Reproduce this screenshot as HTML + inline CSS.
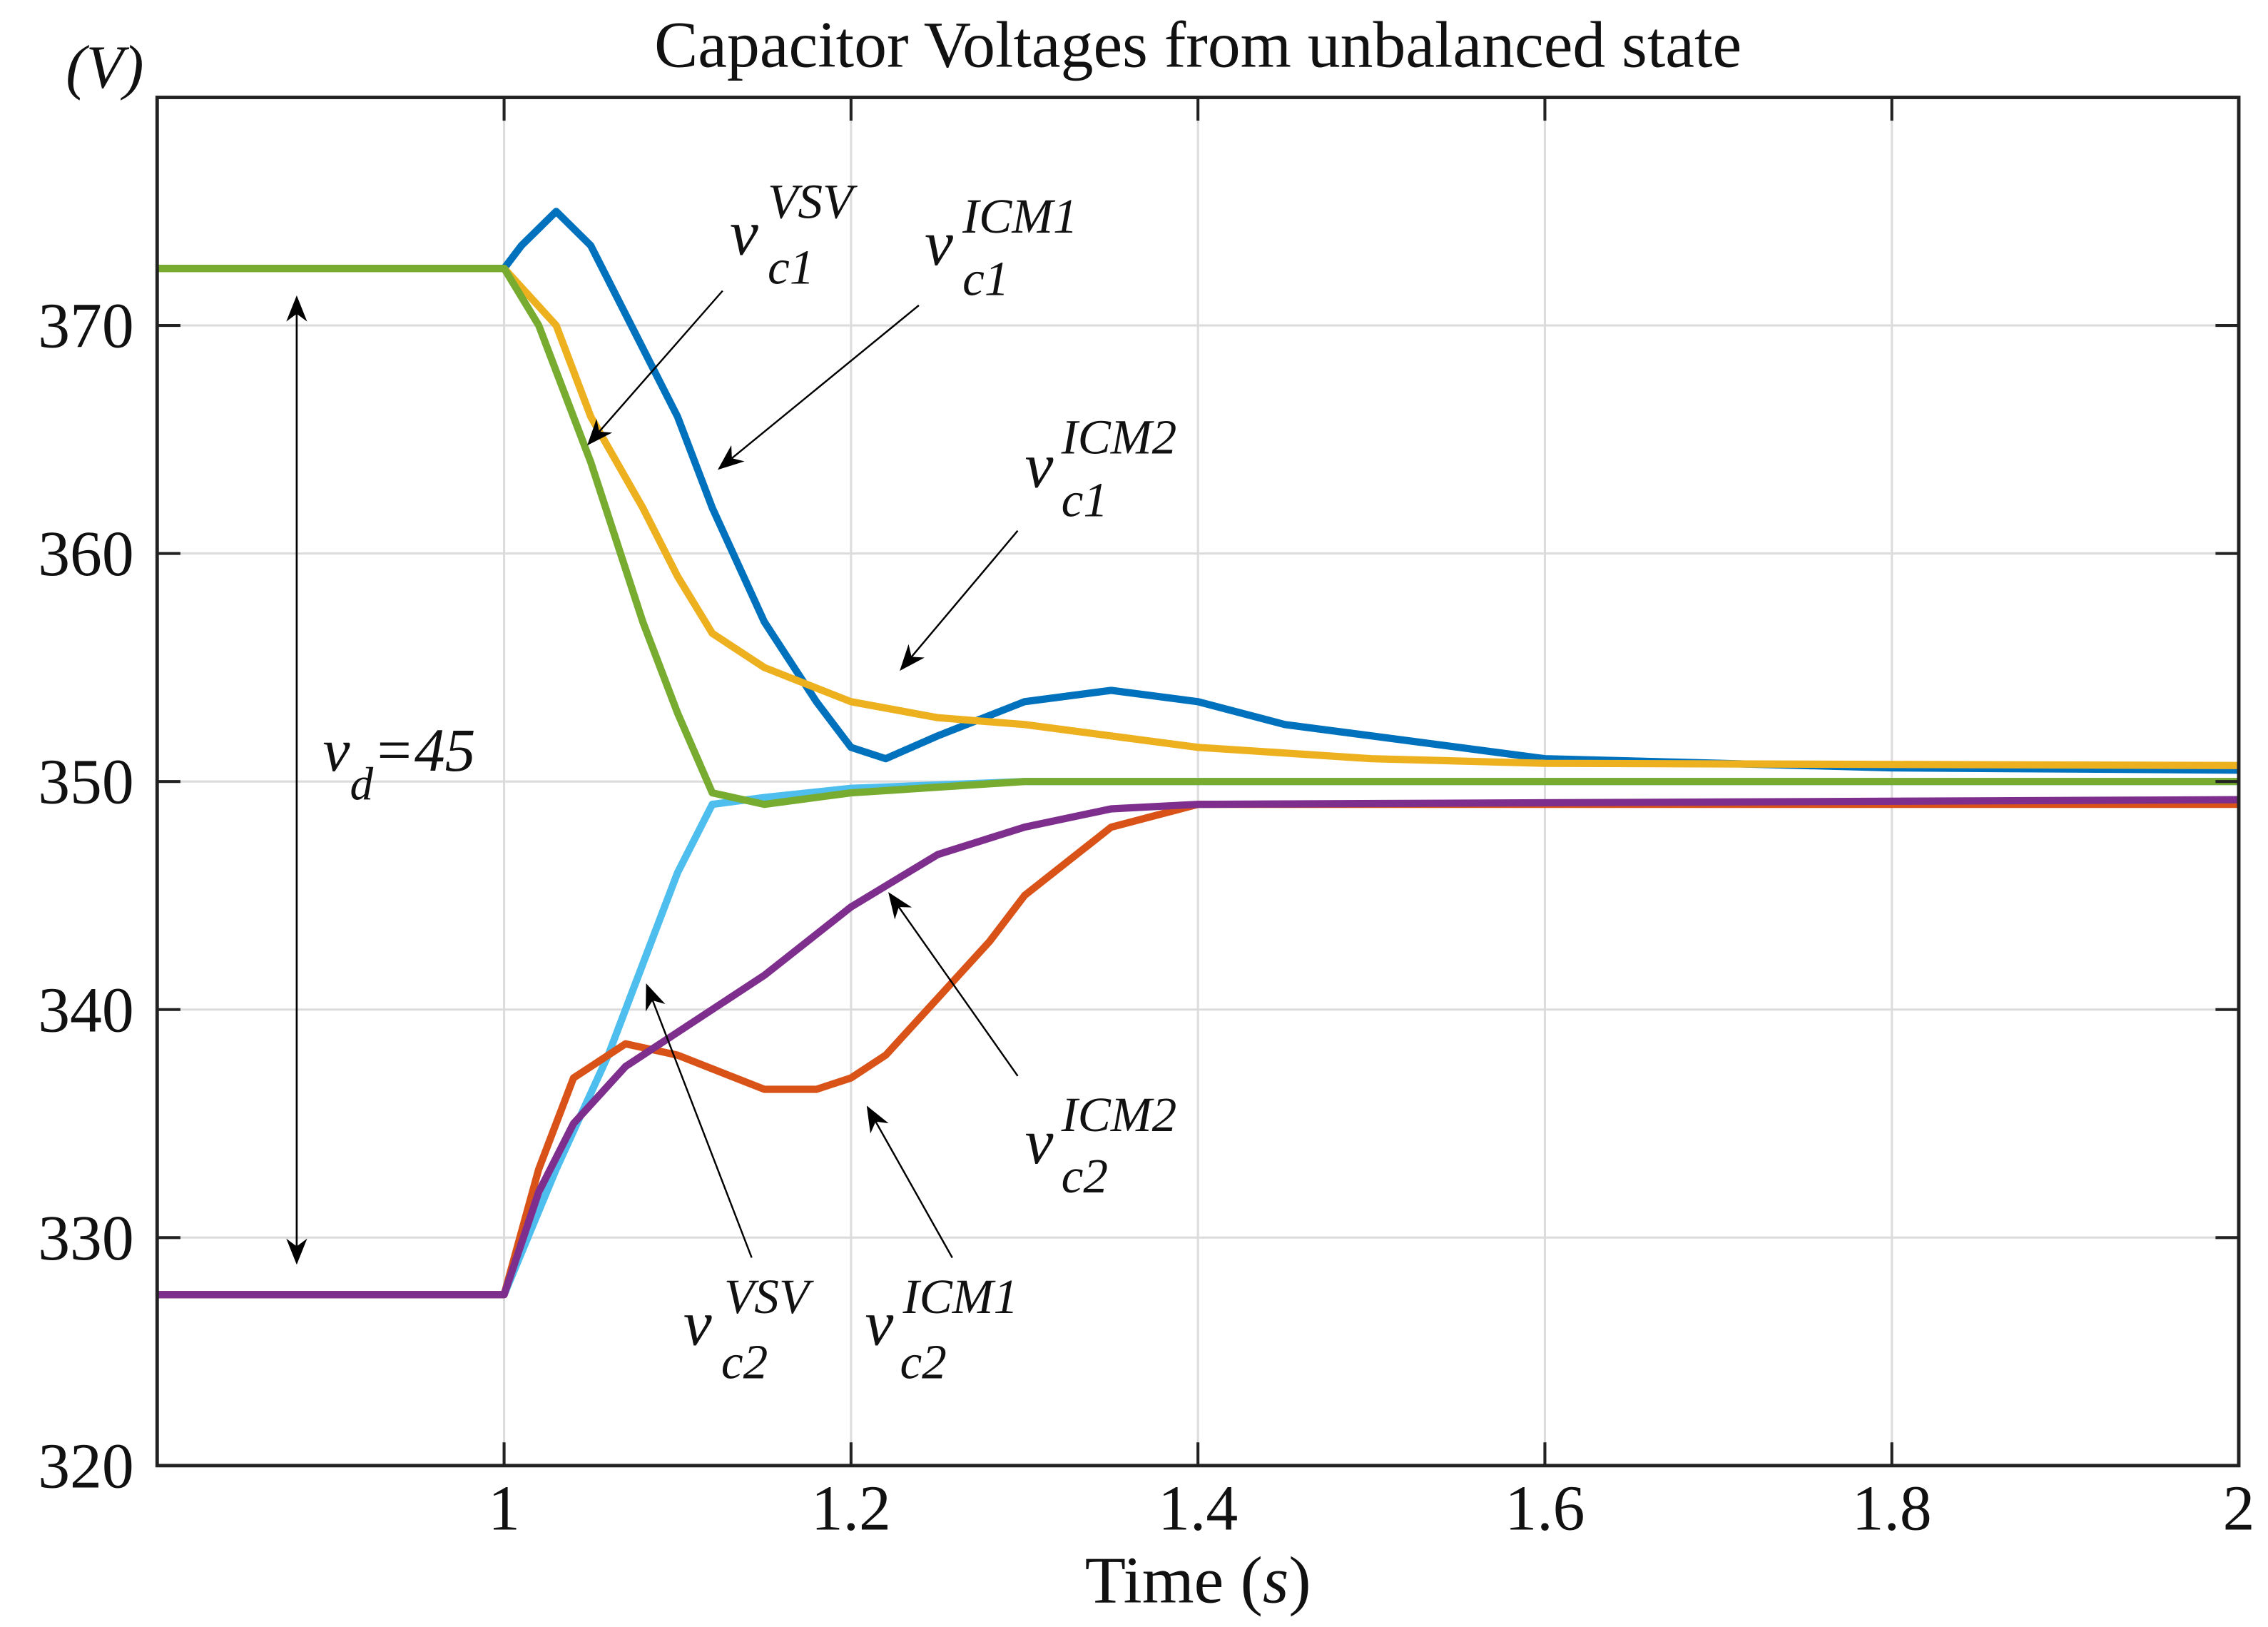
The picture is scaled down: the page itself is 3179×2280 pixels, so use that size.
<!DOCTYPE html>
<html><head><meta charset="utf-8"><style>
html,body{margin:0;padding:0;background:#fff;}
svg{display:block;}
text{font-family:"Liberation Serif",serif;fill:#111;}
</style></head><body>
<svg id="chart" width="3179" height="2280" viewBox="0 0 1560 1119" xmlns="http://www.w3.org/2000/svg">
<defs>
<marker id="ahb" viewBox="0 0 10 10" refX="9" refY="5" markerWidth="18" markerHeight="18" orient="auto-start-reverse" markerUnits="userSpaceOnUse"><path d="M0,1 L10,5 L0,9 L3,5 Z" fill="#000"/></marker>
</defs>
<g id="grid"></g>
<g id="series"></g>
<g id="axes"></g>
<text x="824" y="46" font-size="45" text-anchor="middle">Capacitor Voltages from unbalanced state</text>
<text x="72" y="60" font-size="42" font-style="italic" text-anchor="middle">(V)</text>
<text x="824" y="1102" font-size="46" text-anchor="middle">Time (<tspan font-style="italic">s</tspan>)</text>
<g font-style="italic">
  <line x1="204" y1="868" x2="204" y2="205" stroke="#000" stroke-width="1.3" marker-start="url(#ahb)" marker-end="url(#ahb)"/>
  <text x="222" y="530" font-size="42">v<tspan dy="20" font-size="32">d</tspan><tspan dy="-20">=45</tspan></text>

  <line x1="497" y1="200" x2="405" y2="305" stroke="#000" stroke-width="1.2" marker-end="url(#ahb)"/>
  <text x="502" y="175" font-size="44">v</text>
  <text x="528" y="150" font-size="34">VSV</text>
  <text x="528" y="195" font-size="34">c1</text>

  <line x1="632" y1="210" x2="495" y2="322" stroke="#000" stroke-width="1.2" marker-end="url(#ahb)"/>
  <text x="636" y="182" font-size="44">v</text>
  <text x="662" y="160" font-size="34">ICM1</text>
  <text x="662" y="203" font-size="34">c1</text>

  <line x1="700" y1="365" x2="620" y2="460" stroke="#000" stroke-width="1.2" marker-end="url(#ahb)"/>
  <text x="705" y="335" font-size="44">v</text>
  <text x="730" y="312" font-size="34">ICM2</text>
  <text x="730" y="355" font-size="34">c1</text>

  <line x1="517" y1="865" x2="445" y2="678" stroke="#000" stroke-width="1.2" marker-end="url(#ahb)"/>
  <text x="470" y="925" font-size="44">v</text>
  <text x="498" y="903" font-size="34">VSV</text>
  <text x="496" y="948" font-size="34">c2</text>

  <line x1="655" y1="865" x2="597" y2="762" stroke="#000" stroke-width="1.2" marker-end="url(#ahb)"/>
  <text x="595" y="925" font-size="44">v</text>
  <text x="621" y="903" font-size="34">ICM1</text>
  <text x="619" y="948" font-size="34">c2</text>

  <line x1="700" y1="740" x2="612" y2="615" stroke="#000" stroke-width="1.2" marker-end="url(#ahb)"/>
  <text x="705" y="800" font-size="44">v</text>
  <text x="730" y="778" font-size="34">ICM2</text>
  <text x="730" y="820" font-size="34">c2</text>
</g>
</svg>
<script>
const xTicks = [1, 1.2, 1.4, 1.6, 1.8, 2];
const xTickLabels = ["1", "1.2", "1.4", "1.6", "1.8", "2"];
const yTicks = [320, 330, 340, 350, 360, 370];
const yTickLabels = ["320", "330", "340", "350", "360", "370"];

const tBlue = [0.8, 1.0, 1.01, 1.03, 1.05, 1.08, 1.1, 1.12, 1.15, 1.18, 1.2, 1.22, 1.25, 1.3, 1.35, 1.4, 1.45, 1.5, 1.6, 1.8, 2.0];
const vBlue = [372.5, 372.5, 373.5, 375, 373.5, 369, 366, 362, 357, 353.5, 351.5, 351, 352, 353.5, 354, 353.5, 352.5, 352, 351, 350.6, 350.5];
const tYellow = [0.8, 1.0, 1.03, 1.05, 1.08, 1.1, 1.12, 1.15, 1.2, 1.25, 1.3, 1.4, 1.5, 1.6, 2.0];
const vYellow = [372.5, 372.5, 370, 366, 362, 359, 356.5, 355, 353.5, 352.8, 352.5, 351.5, 351, 350.8, 350.7];
const tGreen = [0.8, 1.0, 1.02, 1.05, 1.08, 1.1, 1.12, 1.15, 1.2, 1.3, 2.0];
const vGreen = [372.5, 372.5, 370, 364, 357, 353, 349.5, 349, 349.5, 350, 350];
const tCyan = [0.8, 1.0, 1.03, 1.06, 1.08, 1.1, 1.12, 1.15, 1.2, 1.3, 2.0];
const vCyan = [327.5, 327.5, 333, 338, 342, 346, 349, 349.3, 349.7, 350, 350];
const tOrange = [0.8, 1.0, 1.02, 1.04, 1.07, 1.1, 1.15, 1.18, 1.2, 1.22, 1.25, 1.28, 1.3, 1.35, 1.4, 1.5, 2.0];
const vOrange = [327.5, 327.5, 333, 337, 338.5, 338, 336.5, 336.5, 337, 338, 340.5, 343, 345, 348, 349, 349, 349];
const tPurple = [0.8, 1.0, 1.02, 1.04, 1.07, 1.1, 1.15, 1.2, 1.25, 1.3, 1.35, 1.4, 2.0];
const vPurple = [327.5, 327.5, 332, 335, 337.5, 339, 341.5, 344.5, 346.8, 348, 348.8, 349, 349.2];

const X0 = 108, X1 = 1540, Y0 = 1008, Y1 = 67;
const xMin = 0.8, xMax = 2, yMin = 320, yMax = 380;
function xs(t){ return X0 + (t - xMin) / (xMax - xMin) * (X1 - X0); }
function ys(v){ return Y0 - (v - yMin) / (yMax - yMin) * (Y0 - Y1); }
const NS = "http://www.w3.org/2000/svg";
function mk(tag, attrs, parent){
  const e = document.createElementNS(NS, tag);
  for (const k in attrs) e.setAttribute(k, attrs[k]);
  parent.appendChild(e); return e;
}
const grid = document.getElementById('grid');
const axes = document.getElementById('axes');
const series = document.getElementById('series');

xTicks.forEach((t, i) => {
  const g = mk('line', {x1: xs(t), x2: xs(t), y1: Y1, y2: Y0, stroke: '#dcdcdc', 'stroke-width': 1.5}, grid);
  
  
  const tb = mk('line', {x1: xs(t), x2: xs(t), y1: Y0, y2: Y0 - 16, stroke: '#222', 'stroke-width': 2}, axes);
  
  
  const tt = mk('line', {x1: xs(t), x2: xs(t), y1: Y1, y2: Y1 + 16, stroke: '#222', 'stroke-width': 2}, axes);
  
  
  const lb = mk('text', {x: xs(t), y: Y0 + 44, 'font-size': 44, 'text-anchor': 'middle'}, axes);
  lb.textContent = xTickLabels[i];
  
  
});
yTicks.forEach((v, i) => {
  const g = mk('line', {x1: X0, x2: X1, y1: ys(v), y2: ys(v), stroke: '#dcdcdc', 'stroke-width': 1.5}, grid);
  
  
  const tl = mk('line', {x1: X0, x2: X0 + 16, y1: ys(v), y2: ys(v), stroke: '#222', 'stroke-width': 2}, axes);
  
  
  const tr = mk('line', {x1: X1, x2: X1 - 16, y1: ys(v), y2: ys(v), stroke: '#222', 'stroke-width': 2}, axes);
  
  
  const lb = mk('text', {x: X0 - 16, y: ys(v) + 15, 'font-size': 44, 'text-anchor': 'end'}, axes);
  lb.textContent = yTickLabels[i];
  
  
});
const frame = mk('rect', {x: X0, y: Y1, width: X1 - X0, height: Y0 - Y1, fill: 'none', stroke: '#222', 'stroke-width': 2.4}, axes);



function drawSeries(ts, vs, color, name){
  const pts = ts.map((t, i) => xs(t).toFixed(1) + ',' + ys(vs[i]).toFixed(1)).join(' ');
  const p = mk('polyline', {points: pts, fill: 'none', stroke: color, 'stroke-width': 5, 'stroke-linejoin': 'round'}, series);
  
  
}
drawSeries(tCyan, vCyan, '#4DBEEE', 'series-vc2-vsv');
drawSeries(tOrange, vOrange, '#D95319', 'series-vc2-icm1');
drawSeries(tPurple, vPurple, '#7E2F8E', 'series-vc2-icm2');
drawSeries(tBlue, vBlue, '#0072BD', 'series-vc1-icm1');
drawSeries(tYellow, vYellow, '#EDB120', 'series-vc1-icm2');
drawSeries(tGreen, vGreen, '#77AC30', 'series-vc1-vsv');
</script>
</body></html>
